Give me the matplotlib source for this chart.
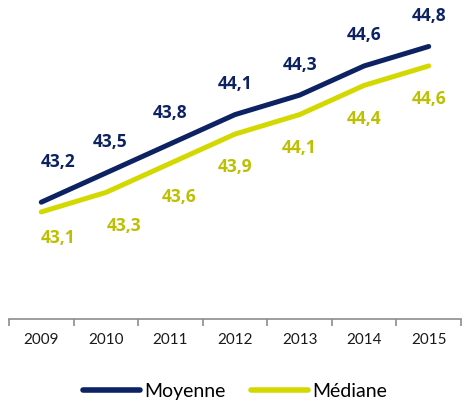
import numpy as np
import matplotlib
matplotlib.use('Agg')
import matplotlib.pyplot as plt

annees = ['2009', '2010', '2011', '2012', '2013', '2014', '2015']
moyenne = [43.2, 43.5, 43.8, 44.1, 44.3, 44.6, 44.8]
mediane = [43.1, 43.3, 43.6, 43.9, 44.1, 44.4, 44.6]

bleu = '#0c2262'
jaune = '#d3d900'
jaune_txt = '#bcc000'

plt.rcParams['font.family'] = ['Lato', 'DejaVu Sans']

fig = plt.figure(figsize=(4.71, 4.11), dpi=100)
ax = fig.add_axes([9 / 471, 92 / 411, 452 / 471, (319 - 27) / 411])

x = np.arange(len(annees))
ax.plot(x, moyenne, color=bleu, lw=3.6, solid_capstyle='round', label='Moyenne')
ax.plot(x, mediane, color=jaune, lw=3.6, solid_capstyle='round', label='Médiane')

# decalages des etiquettes (en points), comme dans excel
dx_moy = [12, 3, 0, 0, 0, 0, 0]
dx_med = [12, 13, 6, 0, 0, 0, 0]
for i in range(len(annees)):
    ax.annotate(f'{moyenne[i]:.1f}'.replace('.', ','), (x[i], moyenne[i]),
                xytext=(dx_moy[i], 22 if i else 29), textcoords='offset points',
                ha='center', va='center', fontsize=12.5, fontweight='bold',
                family='Open Sans', color=bleu)
    ax.annotate(f'{mediane[i]:.1f}'.replace('.', ','), (x[i], mediane[i]),
                xytext=(dx_med[i], -24 if i else -19), textcoords='offset points',
                ha='center', va='center', fontsize=12.5, fontweight='bold',
                family='Open Sans', color=jaune_txt)

ax.set_xlim(-0.5, len(annees) - 0.5)
ax.set_ylim(42, 45)
ax.set_yticks([])
for s in ['top', 'right', 'left']:
    ax.spines[s].set_visible(False)
ax.spines['bottom'].set_color('#8c8c8c')
ax.spines['bottom'].set_linewidth(1.2)

ax.set_xticks(np.arange(-0.5, len(annees)), minor=False)
ax.set_xticklabels([])
ax.tick_params(axis='x', which='major', direction='out', length=5, width=1.2, color='#8c8c8c')
ax.set_xticks(x, minor=True)
ax.set_xticklabels(annees, minor=True)
ax.tick_params(axis='x', which='minor', length=0, pad=10, labelsize=11, labelcolor='#1a1a1a')

leg = fig.legend(loc='center', bbox_to_anchor=(0.5, 1 - 391 / 411), ncol=2, frameon=False,
                 fontsize=14, handlelength=2.9, handletextpad=0.25, columnspacing=1.3)
for h in leg.get_lines():
    h.set_linewidth(4)
    h.set_solid_capstyle('round')

fig.savefig('out.png', dpi=100)
